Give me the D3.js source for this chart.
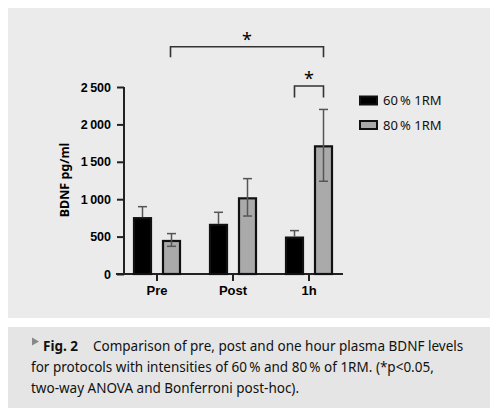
<!DOCTYPE html>
<html>
<head>
<meta charset="utf-8">
<script src="https://cdn.jsdelivr.net/npm/d3@7"></script>
<style>
  body { margin: 0; background: #fff; }
  svg { display: block; font-family: "Noto Sans", sans-serif; }
</style>
</head>
<body>
<svg class="chart"></svg>
<script>
const width = 498;
const height = 420;

// data
const categories = ["Pre", "Post", "1h"];
const seriesNames = ["60\u2009% 1RM", "80\u2009% 1RM"];
const mean60 = [760, 670, 500];
const sd60 = [140, 155, 80];
const mean80 = [455, 1025, 1720];
const sd80 = [85, 250, 480];
const yTicks = [0, 500, 1000, 1500, 2000, 2500];
const captionLines = [
    "for protocols with intensities of 60\u2009% and 80\u2009% of 1RM. (*p<0.05,",
    "two-way ANOVA and Bonferroni post-hoc)."
];

const fills = ["#000", "#aaaaaa"];

let svg = d3.select("svg.chart")
    .attr("width", width)
    .attr("height", height);

// panels
svg.append("rect").attr("x", 8).attr("y", 8).attr("width", 482).attr("height", 310).attr("fill", "#ebebeb");
svg.append("rect").attr("x", 8).attr("y", 327).attr("width", 482).attr("height", 81).attr("fill", "#e5e5e5");

let x = d3.scaleBand()
    .domain(categories)
    .range([119, 347]);

let xs = d3.scaleBand()
    .domain([0, 1])
    .range([-24, 24])
    .paddingInner(0.345);

let y = d3.scaleLinear()
    .domain([0, 2500])
    .range([274, 87]);

let cx = (c, s) => x(c) + x.bandwidth() / 2 + xs(s) + xs.bandwidth() / 2;

// y axis
let yAxis = svg.append("g")
    .attr("transform", "translate(124,0)")
    .call(d3.axisLeft(y).tickValues(yTicks).tickSize(7).tickPadding(6)
        .tickFormat(d => d >= 1000 ? d3.format(",")(d).replace(",", "\u2009") : d));
yAxis.select(".domain").attr("d", `M0,${y(2500)}V${y(0)}`).attr("stroke", "#222").attr("stroke-width", 2);
yAxis.selectAll(".tick line").attr("stroke", "#222").attr("stroke-width", 2);
yAxis.selectAll(".tick text").attr("fill", "#000").style("font-size", "12.5px").style("font-weight", "bold")
    .attr("font-family", null);

// x axis
let xAxis = svg.append("g")
    .attr("transform", `translate(0,${y(0)})`)
    .call(d3.axisBottom(x).tickSize(7).tickPadding(5));
xAxis.select(".domain").attr("d", "M116,0H343").attr("stroke", "#222").attr("stroke-width", 2);
xAxis.selectAll(".tick line").attr("stroke", "#222").attr("stroke-width", 2);
xAxis.selectAll(".tick text").attr("fill", "#000").style("font-size", "13px").style("font-weight", "bold")
    .attr("font-family", null);

svg.append("text")
    .attr("transform", "translate(69,180) rotate(-90)")
    .attr("text-anchor", "middle")
    .style("font-size", "12.5px")
    .style("font-weight", "bold")
    .text("BDNF pg/ml");

// bars
let groups = [mean60, mean80].map((m, s) => categories.map((c, i) => ({
    c: c, s: s, v: m[i], e: [sd60, sd80][s][i]
})));

groups.forEach(data => {
    svg.append("g").selectAll("rect")
        .data(data)
        .enter().append("rect")
        .attr("x", d => x(d.c) + x.bandwidth() / 2 + xs(d.s) + 1)
        .attr("width", xs.bandwidth() - 2)
        .attr("y", d => y(d.v) + 1)
        .attr("height", d => y(0) - y(d.v) - 1)
        .attr("fill", d => fills[d.s])
        .attr("stroke", "#111")
        .attr("stroke-width", 2.2);
});

// error bars (lower half hidden on black bars)
groups.forEach(data => {
    let g = svg.append("g").attr("stroke", "#555").attr("stroke-width", 1.5);
    g.selectAll("line.err")
        .data(data)
        .enter().append("line")
        .attr("x1", d => cx(d.c, d.s))
        .attr("x2", d => cx(d.c, d.s))
        .attr("y1", d => d.s === 0 ? y(d.v) : y(d.v - d.e))
        .attr("y2", d => y(d.v + d.e));
    g.selectAll("line.cap")
        .data(data)
        .enter().append("line")
        .attr("x1", d => cx(d.c, d.s) - 4.5)
        .attr("x2", d => cx(d.c, d.s) + 4.5)
        .attr("y1", d => y(d.v + d.e))
        .attr("y2", d => y(d.v + d.e));
    g.selectAll("line.capb")
        .data(data.filter(d => d.s === 1))
        .enter().append("line")
        .attr("x1", d => cx(d.c, d.s) - 4.5)
        .attr("x2", d => cx(d.c, d.s) + 4.5)
        .attr("y1", d => y(d.v - d.e))
        .attr("y2", d => y(d.v - d.e));
});

// significance brackets
function bracket(x1, x2, yTop, drop) {
    svg.append("path")
        .attr("d", `M${x1},${yTop + drop}V${yTop}H${x2}V${yTop + drop}`)
        .attr("fill", "none")
        .attr("stroke", "#333")
        .attr("stroke-width", 1.6);
    svg.append("text")
        .attr("x", (x1 + x2) / 2)
        .attr("y", yTop - 1)
        .attr("text-anchor", "middle")
        .style("font-size", "18px")
        .text("*");
}
bracket(cx("Pre", 1) - 1, cx("1h", 1), 46.7, 10.5);
bracket(cx("1h", 0), cx("1h", 1), 86, 11.5);

// legend
let legend = svg.append("g");
seriesNames.forEach((n, i) => {
    legend.append("rect")
        .attr("x", 360).attr("y", 96.5 + i * 24.5)
        .attr("width", 17).attr("height", 8)
        .attr("fill", fills[i]).attr("stroke", "#111").attr("stroke-width", 2);
    legend.append("text")
        .attr("x", 383).attr("y", 105 + i * 24.5)
        .style("font-size", "13px").attr("fill", "#111")
        .text(n);
});

// caption
let cap = svg.append("g").style("font-size", "13.5px").attr("fill", "#111");
cap.append("path").attr("d", "M32,337.5L39,341.5L32,345.5Z").attr("fill", "#888");
let t1 = cap.append("text").attr("x", 43).attr("y", 351);
t1.append("tspan").style("font-weight", "bold").text("Fig. 2");
t1.append("tspan").attr("x", 93).text("Comparison of pre, post and one hour plasma BDNF levels");
captionLines.forEach((l, i) => {
    cap.append("text").attr("x", 31).attr("y", 372 + i * 21).text(l);
});
</script>
</body>
</html>
